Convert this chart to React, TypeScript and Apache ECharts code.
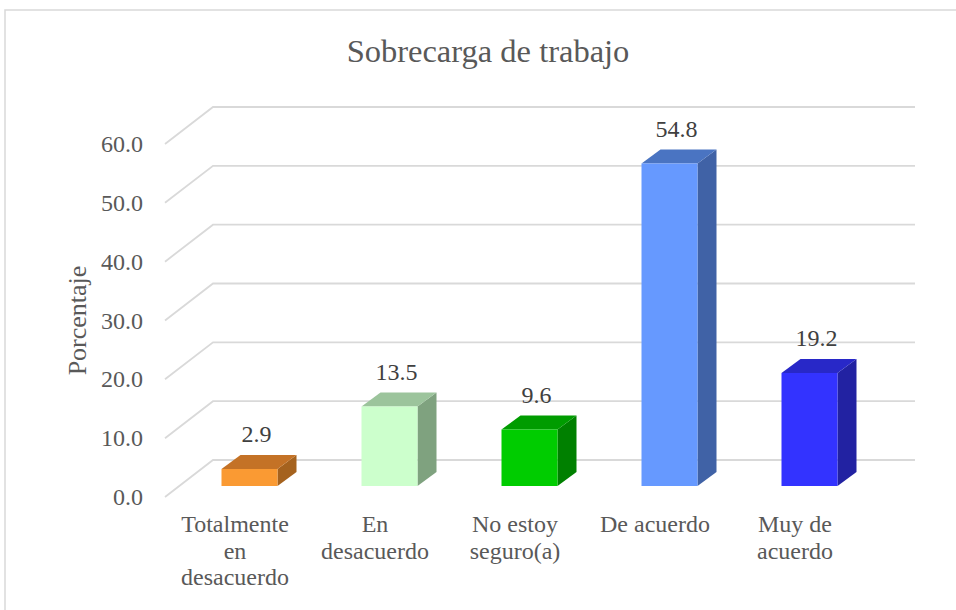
import React, { useEffect, useRef } from "react";
import * as echarts from "echarts";

const categories = ["Totalmente\nen\ndesacuerdo", "En\ndesacuerdo", "No estoy\nseguro(a)", "De acuerdo", "Muy de\nacuerdo"];
const values = [2.9, 13.5, 9.6, 54.8, 19.2];
const yTicks = [0, 10, 20, 30, 40, 50, 60];
const frontColors = ["#FA9A33", "#CCFFCC", "#00CC00", "#6699FF", "#3333FF"];
const topColors = ["#C47226", "#9CC49C", "#009C00", "#4A74C2", "#2828C8"];
const sideColors = ["#A5621E", "#7FA27F", "#008000", "#4062A6", "#2222A2"];

const FONT = "Liberation Serif, Times New Roman, serif";

export default function App() {
  const ref = useRef<HTMLDivElement>(null);
  useEffect(() => {
    document.body.style.margin = "0";
    const chart = echarts.init(ref.current!, null, { renderer: "svg" });
    const DEPTH_X = 48;
    const DEPTH_Y = 37;
    const BAR_OFF_X = 14.5;
    const BAR_OFF_Y = 11;
    const HALF_W = 28;
    const BD_X = 19;
    const BD_Y = 14;
    chart.setOption({
      animation: false,
      title: {
        text: "Sobrecarga de trabajo",
        left: 488,
        top: 34,
        padding: 0,
        textAlign: "center",
        textStyle: { fontFamily: FONT, fontSize: 32.5, fontWeight: "normal", color: "#595959" },
      },
      graphic: [
        {
          type: "rect",
          shape: { x: 5, y: 10, width: 1000, height: 700 },
          style: { fill: "none", stroke: "#D9D9D9", lineWidth: 1.5 },
          silent: true,
        },
      ],
      grid: { left: 165, right: 91, top: 144, bottom: 113, containLabel: false },
      xAxis: {
        type: "category",
        data: categories,
        axisLine: { show: false },
        axisTick: { show: false },
        splitLine: { show: false },
        axisLabel: {
          interval: 0,
          margin: 14,
          fontFamily: FONT,
          fontSize: 24,
          lineHeight: 26.5,
          color: "#595959",
        },
      },
      yAxis: {
        type: "value",
        min: 0,
        max: 60,
        interval: 10,
        name: "Porcentaje",
        nameLocation: "middle",
        nameRotate: 90,
        nameGap: 70,
        nameTextStyle: { fontFamily: FONT, fontSize: 26, color: "#595959" },
        axisLine: { show: false },
        axisTick: { show: false },
        splitLine: { show: false },
        axisLabel: {
          margin: 22,
          fontFamily: FONT,
          fontSize: 24,
          color: "#595959",
          formatter: (v: number) => v.toFixed(1),
        },
      },
      series: [
        {
          type: "custom",
          z: 1,
          silent: true,
          data: yTicks.map((t) => [0, t]),
          renderItem: (params: any, api: any) => {
            const cs = params.coordSys;
            const y = api.coord([0, api.value(1)])[1];
            const x0 = cs.x;
            return {
              type: "polyline",
              shape: {
                points: [
                  [x0, y],
                  [x0 + DEPTH_X, y - DEPTH_Y],
                  [x0 + cs.width + DEPTH_X + 2, y - DEPTH_Y],
                ],
              },
              style: { stroke: "#D9D9D9", lineWidth: 1.8, fill: "none" },
            };
          },
        },
        {
          type: "custom",
          z: 2,
          data: values.map((v, i) => [i, v]),
          renderItem: (params: any, api: any) => {
            const i = api.value(0);
            const v = api.value(1);
            const top = api.coord([i, v]);
            const base = api.coord([i, 0]);
            const cx = top[0] + BAR_OFF_X;
            const xl = cx - HALF_W;
            const xr = cx + HALF_W;
            const yt = top[1] - BAR_OFF_Y;
            const yb = base[1] - BAR_OFF_Y;
            return {
              type: "group",
              children: [
                {
                  type: "polygon",
                  shape: { points: [[xr, yt], [xr + BD_X, yt - BD_Y], [xr + BD_X, yb - BD_Y], [xr, yb]] },
                  style: { fill: sideColors[i] },
                },
                {
                  type: "polygon",
                  shape: { points: [[xl, yt], [xl + BD_X, yt - BD_Y], [xr + BD_X, yt - BD_Y], [xr, yt]] },
                  style: { fill: topColors[i] },
                },
                {
                  type: "polygon",
                  shape: { points: [[xl, yt], [xr, yt], [xr, yb], [xl, yb]] },
                  style: { fill: frontColors[i] },
                },
                {
                  type: "text",
                  style: {
                    text: v.toFixed(1),
                    x: cx + 7,
                    y: yt - 35,
                    align: "center",
                    verticalAlign: "middle",
                    fontFamily: FONT,
                    fontSize: 24,
                    fill: "#404040",
                  },
                },
              ],
            };
          },
        },
      ],
    });
    return () => chart.dispose();
  }, []);
  return <div ref={ref} style={{ width: 956, height: 610 }} />;
}
